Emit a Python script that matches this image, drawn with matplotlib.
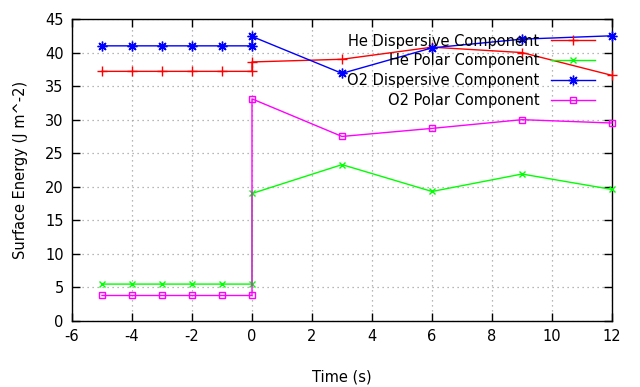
import matplotlib
matplotlib.use("Agg")
import matplotlib.pyplot as plt

plt.rcParams["axes.unicode_minus"] = False

# Data
x_vals = [-5, -4, -3, -2, -1, 0, 0, 3, 6, 9, 12]
he_disp = [37.2, 37.2, 37.2, 37.2, 37.2, 37.2, 38.6, 39.0, 40.8, 40.0, 36.6]
he_polar = [5.5, 5.5, 5.5, 5.5, 5.5, 5.5, 19.0, 23.3, 19.3, 21.9, 19.6]
o2_disp = [41.0, 41.0, 41.0, 41.0, 41.0, 41.0, 42.4, 36.9, 40.7, 42.0, 42.5]
o2_polar = [3.8, 3.8, 3.8, 3.8, 3.8, 3.8, 33.1, 27.5, 28.7, 30.0, 29.5]
series_labels = ["He Dispersive Component", "He Polar Component",
                 "O2 Dispersive Component", "O2 Polar Component"]

fig = plt.figure(figsize=(6.4, 3.87), dpi=100)
ax = fig.add_axes([72/640, 1-321/387, 540/640, 302/387])

styles = [
    dict(color="#ff0000", marker="+", ms=7),
    dict(color="#00ff00", marker="x", ms=5),
    dict(color="#0000ff", marker=(8, 2, 0), ms=7),
    dict(color="#ff00ff", marker="s", ms=5),
]
series = [he_disp, he_polar, o2_disp, o2_polar]
handles = []
for ys, st, lab in zip(series, styles, series_labels):
    ln, = ax.plot(x_vals, ys, lw=1.0, color=st["color"], marker=st["marker"],
                  ms=st["ms"], mfc="none", mec=st["color"], mew=1.0,
                  label=lab, clip_on=False, zorder=3)
    handles.append(ln)

ax.set_xlim(-6, 12)
ax.set_ylim(0, 45)
ax.set_xticks(range(-6, 13, 2))
ax.set_yticks(range(0, 46, 5))
ax.grid(True, color="#a0a0a0", linestyle=(0, (1, 3)), linewidth=0.9)
ax.tick_params(direction="in", length=6, top=True, right=True,
               labelsize=10.5, pad=6, width=1)
for sp in ax.spines.values():
    sp.set_linewidth(1)
ax.set_xlabel("Time (s)", fontsize=10.5, labelpad=18)
ax.set_ylabel("Surface Energy (J m^-2)", fontsize=10.5, labelpad=12)

leg = ax.legend(handles=handles, loc="upper right", markerfirst=False,
                frameon=False, fontsize=10.5, handlelength=3.0,
                labelspacing=0.33, borderaxespad=0.6, handletextpad=0.8,
                bbox_to_anchor=(0.995, 1.0))
leg._legend_box.align = "right"
for t in leg.get_texts():
    t.set_ha("right")

fig.savefig("out.png", dpi=100)
